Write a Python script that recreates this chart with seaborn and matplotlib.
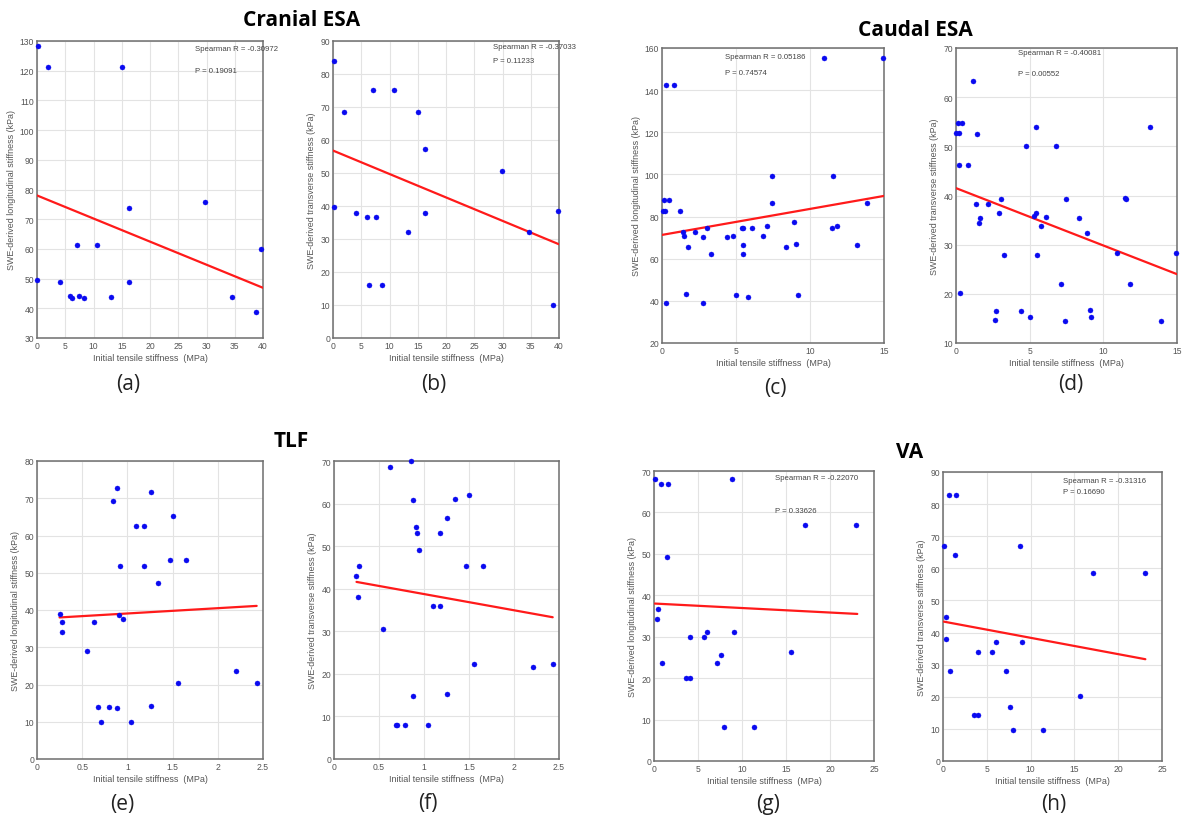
import matplotlib
matplotlib.use("Agg")
import matplotlib.pyplot as plt
import numpy as np
import pandas as pd
import seaborn as sns
from matplotlib.ticker import FuncFormatter, MultipleLocator

# ---------------- data ----------------
# Cranial ESA
a_x = [0.1, 1.9, 15.0, 0.0, 4.1, 5.9, 6.2, 7.1, 7.5, 8.4, 10.6, 13.1, 16.2, 16.3, 29.8, 34.6, 38.7, 39.7]
a_y = [128.3, 121.1, 121.1, 49.5, 48.7, 44.2, 43.4, 61.2, 44.2, 43.4, 61.2, 43.9, 73.8, 48.7, 75.8, 43.9, 38.9, 60.1]
b_x = [0.1, 0.1, 1.95, 4.1, 6.0, 7.6, 7.1, 6.3, 8.6, 10.8, 13.2, 15.1, 16.3, 16.3, 29.9, 34.7, 38.9, 39.9]
b_y = [84.0, 39.6, 68.5, 37.8, 36.8, 36.8, 75.0, 16.1, 16.1, 75.0, 32.1, 68.5, 57.3, 37.8, 50.6, 32.1, 9.9, 38.4]
# Caudal ESA
c_x = [0.07, 0.18, 0.16, 0.49, 0.25, 0.83, 1.19, 1.44, 1.48, 1.73, 1.64, 0.29, 2.2, 2.74, 3.03, 3.3, 2.74,
       4.4, 4.8, 4.97, 5.39, 5.46, 5.5, 5.5, 5.8, 6.1, 6.83, 7.12, 7.46, 7.44, 8.38, 8.92, 9.08, 9.21,
       10.97, 14.94, 11.57, 11.46, 11.8, 13.15, 13.87]
c_y = [82.7, 82.7, 87.7, 87.7, 142.3, 142.3, 82.8, 72.5, 70.9, 65.7, 43.4, 38.8, 72.5, 70.1, 74.7, 62.4, 39.2,
       70.1, 70.8, 42.6, 74.7, 74.7, 66.5, 62.4, 41.8, 74.7, 70.8, 75.5, 99.3, 86.5, 65.7, 77.3, 67.0, 42.6,
       155.2, 155.2, 99.3, 74.7, 75.5, 66.5, 86.5]
d_x = [0.0, 0.18, 0.11, 0.43, 1.15, 0.18, 0.79, 1.42, 0.25, 1.33, 1.63, 1.56, 2.19, 2.73, 2.68, 2.95, 3.07,
       3.29, 4.38, 4.76, 5.0, 5.46, 5.3, 5.41, 5.48, 5.77, 6.09, 6.81, 7.1, 7.47, 7.42, 8.35, 8.91, 9.07,
       9.16, 10.96, 11.48, 11.57, 11.8, 13.17, 13.9, 14.96]
d_y = [52.8, 52.8, 54.8, 54.8, 63.2, 46.3, 46.3, 52.6, 20.2, 38.3, 35.4, 34.4, 38.3, 16.5, 14.7, 36.5, 39.2,
       27.9, 16.5, 50.1, 15.3, 53.9, 35.8, 36.5, 27.9, 33.8, 35.6, 50.1, 22.1, 39.2, 14.5, 35.4, 32.3, 16.7,
       15.3, 28.3, 39.4, 39.2, 22.1, 53.9, 14.5, 28.3]
# TLF
e_x = [0.258, 0.277, 0.273, 0.557, 0.63, 0.68, 0.71, 0.80, 0.84, 0.88, 0.88, 0.91, 0.92, 0.95, 1.04, 1.10,
       1.18, 1.18, 1.26, 1.26, 1.34, 1.47, 1.50, 1.56, 1.65, 2.20, 2.43]
e_y = [39.0, 36.7, 34.2, 29.1, 36.8, 14.0, 9.8, 14.0, 69.3, 72.7, 13.8, 38.6, 51.8, 37.6, 9.8, 62.6,
       62.6, 51.8, 71.8, 14.3, 47.3, 53.4, 65.2, 20.5, 53.4, 23.5, 20.5]
f_x = [0.248, 0.274, 0.267, 0.548, 0.626, 0.685, 0.70, 0.79, 0.85, 0.874, 0.878, 0.907, 0.918, 0.948, 1.04,
       1.10, 1.18, 1.18, 1.26, 1.26, 1.34, 1.47, 1.50, 1.56, 1.65, 2.21, 2.43]
f_y = [43.0, 45.3, 38.0, 30.6, 68.6, 8.1, 8.1, 8.1, 70.0, 60.9, 14.9, 54.5, 53.1, 49.2, 8.1,
       35.9, 35.9, 53.1, 56.6, 15.3, 61.1, 45.3, 62.1, 22.2, 45.3, 21.6, 22.2]
# VA
g_x = [0.15, 0.76, 1.55, 8.86, 17.2, 23.0, 1.44, 0.45, 0.38, 4.05, 5.72, 6.02, 9.09, 7.65, 7.2, 0.95, 15.6,
       3.6, 4.1, 8.0, 11.4]
g_y = [68.1, 66.9, 66.9, 68.1, 56.9, 56.9, 49.3, 36.7, 34.2, 29.9, 29.9, 31.1, 31.1, 25.7, 23.6, 23.6, 26.4,
       20.1, 20.1, 8.3, 8.3]
h_x = [0.7, 1.5, 0.1, 8.8, 1.4, 17.1, 23.1, 0.3, 0.3, 9.0, 6.0, 4.0, 5.6, 0.8, 7.2, 15.6, 7.6, 3.5, 4.0,
       8.0, 11.4]
h_y = [82.7, 82.7, 66.9, 66.9, 64.2, 58.7, 58.7, 45.0, 38.0, 37.2, 37.2, 33.9, 33.9, 28.1, 28.1, 20.2, 16.8,
       14.3, 14.3, 9.6, 9.6]

# fitted lines (end points)
fit_a_x = [0, 40];      fit_a_y = [78.0, 46.9]
fit_b_x = [0, 40];      fit_b_y = [56.8, 28.4]
fit_c_x = [0, 15];      fit_c_y = [71.3, 89.8]
fit_d_x = [0, 15];      fit_d_y = [41.5, 24.0]
fit_e_x = [0.25, 2.43]; fit_e_y = [38.0, 41.1]
fit_f_x = [0.25, 2.43]; fit_f_y = [41.6, 33.3]
fit_g_x = [0.1, 23.1];  fit_g_y = [38.0, 35.5]
fit_h_x = [0.1, 23.1];  fit_h_y = [43.4, 31.7]

stats_a = ["Spearman R = -0.30972", "P = 0.19091"]
stats_b = ["Spearman R = -0.37033", "P = 0.11233"]
stats_c = ["Spearman R = 0.05186", "P = 0.74574"]
stats_d = ["Spearman R = -0.40081", "P = 0.00552"]
stats_g = ["Spearman R = -0.22070", "P = 0.33626"]
stats_h = ["Spearman R = -0.31316", "P = 0.16690"]

group_titles = ["Cranial ESA", "Caudal ESA", "TLF", "VA"]
panel_letters = ["(a)", "(b)", "(c)", "(d)", "(e)", "(f)", "(g)", "(h)"]
xlabel = "Initial tensile stiffness  (MPa)"
ylab_long = "SWE-derived longitudinal stiffness (kPa)"
ylab_trans = "SWE-derived transverse stiffness (kPa)"

# ---------------- figure ----------------
sns.set_theme(style="whitegrid")
plt.rcParams["font.family"] = ["Liberation Sans", "DejaVu Sans"]

W, H = 1182, 820
fig = plt.figure(figsize=(W / 100, H / 100), dpi=100)
fig.patch.set_facecolor("white")

def rect(l, t, r, b):
    return [l / W, 1 - b / H, (r - l) / W, (b - t) / H]

panels = [
    dict(x=a_x, y=a_y, fx=fit_a_x, fy=fit_a_y, pos=rect(37, 42, 263, 339), xlim=(0, 40), xstep=5,
         ylim=(30, 130), ystep=10, ylab=ylab_long, stats=stats_a, spos=[(27.9, 127.4), (27.9, 120.0)]),
    dict(x=b_x, y=b_y, fx=fit_b_x, fy=fit_b_y, pos=rect(333, 42, 559, 339), xlim=(0, 40), xstep=5,
         ylim=(0, 90), ystep=10, ylab=ylab_trans, stats=stats_b, spos=[(28.3, 88.2), (28.3, 84.0)]),
    dict(x=c_x, y=c_y, fx=fit_c_x, fy=fit_c_y, pos=rect(662, 49, 884, 344), xlim=(0, 15), xstep=5,
         ylim=(20, 160), ystep=20, ylab=ylab_long, stats=stats_c, spos=[(4.27, 156.2), (4.27, 148.3)]),
    dict(x=d_x, y=d_y, fx=fit_d_x, fy=fit_d_y, pos=rect(956, 49, 1177, 344), xlim=(0, 15), xstep=5,
         ylim=(10, 70), ystep=10, ylab=ylab_trans, stats=stats_d, spos=[(4.24, 69.0), (4.24, 64.8)]),
    dict(x=e_x, y=e_y, fx=fit_e_x, fy=fit_e_y, pos=rect(37, 462, 263, 760), xlim=(0, 2.5), xstep=0.5,
         ylim=(0, 80), ystep=10, ylab=ylab_long, stats=None, spos=None),
    dict(x=f_x, y=f_y, fx=fit_f_x, fy=fit_f_y, pos=rect(334, 462, 559, 760), xlim=(0, 2.5), xstep=0.5,
         ylim=(0, 70), ystep=10, ylab=ylab_trans, stats=None, spos=None),
    dict(x=g_x, y=g_y, fx=fit_g_x, fy=fit_g_y, pos=rect(654, 472, 874, 762), xlim=(0, 25), xstep=5,
         ylim=(0, 70), ystep=10, ylab=ylab_long, stats=stats_g, spos=[(13.75, 68.4), (13.75, 60.5)]),
    dict(x=h_x, y=h_y, fx=fit_h_x, fy=fit_h_y, pos=rect(943, 473, 1162, 762), xlim=(0, 25), xstep=5,
         ylim=(0, 90), ystep=10, ylab=ylab_trans, stats=stats_h, spos=[(13.7, 87.4), (13.7, 83.8)]),
]

fmt = FuncFormatter(lambda v, p: f"{v:g}")

for p in panels:
    ax = fig.add_axes(p["pos"])
    ax.set_facecolor("white")
    df = pd.DataFrame({"x": p["x"], "y": p["y"]})
    fit = pd.DataFrame({"x": p["fx"], "y": p["fy"]})
    sns.lineplot(data=fit, x="x", y="y", ax=ax, color="#ff1a1a", linewidth=1.6, zorder=3)
    sns.scatterplot(data=df, x="x", y="y", ax=ax, color="#0a0af0", s=13, edgecolor="#0a0af0",
                    linewidth=0.3, zorder=4, clip_on=False)
    ax.set_xlim(*p["xlim"])
    ax.set_ylim(*p["ylim"])
    ax.xaxis.set_major_locator(MultipleLocator(p["xstep"]))
    ax.yaxis.set_major_locator(MultipleLocator(p["ystep"]))
    ax.xaxis.set_major_formatter(fmt)
    ax.yaxis.set_major_formatter(fmt)
    ax.grid(True, color="#e3e3e3", linewidth=0.8)
    for s in ax.spines.values():
        s.set_visible(True)
        s.set_color("#6e6e6e")
        s.set_linewidth(1.1)
    ax.tick_params(axis="both", labelsize=6.2, colors="#555555", direction="in", length=2, width=0.6, pad=2)
    ax.set_xlabel(xlabel, fontsize=6.5, color="#555555", labelpad=2)
    ax.set_ylabel(p["ylab"], fontsize=6.4, color="#555555", labelpad=3)
    if p["stats"]:
        for (tx, ty), s in zip(p["spos"], p["stats"]):
            ax.text(tx, ty, s, fontsize=5.6, color="#444444", ha="left", va="center")

title_pos = [(302, 20), (915, 30), (291, 442), (910, 453)]
for (tx, ty), t in zip(title_pos, group_titles):
    fig.text(tx / W, 1 - ty / H, t, fontsize=15, fontweight="bold", family=["Open Sans", "DejaVu Sans"],
             ha="center", va="center", color="black")

letter_pos = [(128, 385), (434, 385), (775, 389), (1071, 385), (122, 805), (428, 804), (768, 805), (1054, 805)]
for (tx, ty), t in zip(letter_pos, panel_letters):
    fig.text(tx / W, 1 - ty / H, t, fontsize=15, family=["Open Sans", "DejaVu Sans"],
             ha="center", va="center", color="#222222")

fig.savefig("out.png", dpi=100, facecolor="white")
